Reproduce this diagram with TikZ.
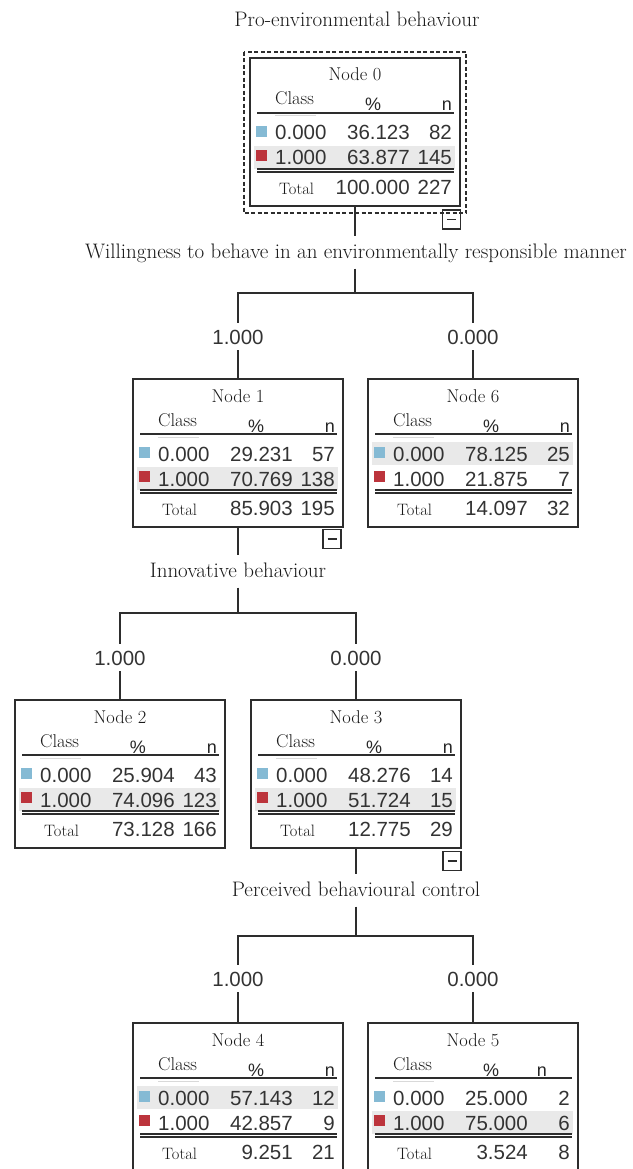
\documentclass[tikz,border=0pt]{standalone}
\usepackage{fontspec}
\newfontfamily\numfont{Liberation Sans}
\definecolor{classzero}{RGB}{133,186,212}
\definecolor{classone}{RGB}{188,52,60}
\definecolor{rowshade}{RGB}{233,233,233}
\definecolor{treeline}{RGB}{45,45,45}

% one node of the classification tree
% #1 number, #2 top left corner, #3 shaded row, #4 values, #5 box style
\newcommand{\treenode}[5]{%
  \begin{scope}[shift = {#2}]
    \foreach \pa/\na/\pb/\nb/\pt/\nt/\nx in {#4} {
      \fill[rowshade] (4, {63 + 25*#3}) rectangle ++(201, 23);
      \node[#5] (n#1) at (105, 74) {};
      \node[headtxt, anchor = base] (n#1-head) at (105, 23) {Node #1};
      \node[headtxt, anchor = base west] (n#1-class) at (25, 47) {Class};
      \node[numhead, anchor = base] (n#1-pct) at (123, 53) {\%};
      \node[numhead, anchor = base east] (n#1-cnt) at (\nx, 53) {n};
      \draw[tablerule] (7, 55) -- (204, 55);
      \draw[gray!30, line width = 1pt] (25, 58) -- (66, 58);
      \fill[classzero] (6, 68) rectangle ++(11, 11);
      \fill[classone] (6, 92) rectangle ++(11, 11);
      \node[numtxt, anchor = base west] (n#1-c0) at (25, 82) {0.000};
      \node[numtxt, anchor = base east] (n#1-p0) at (160, 82) {\pa};
      \node[numtxt, anchor = base east] (n#1-n0) at (202, 82) {\na};
      \node[numtxt, anchor = base west] (n#1-c1) at (25, 107) {1.000};
      \node[numtxt, anchor = base east] (n#1-p1) at (160, 107) {\pb};
      \node[numtxt, anchor = base east] (n#1-n1) at (202, 107) {\nb};
      \draw[tablerule] (7, 111) -- (204, 111);
      \draw[tablerule] (7, 114) -- (204, 114);
      \node[totaltxt, anchor = base west] (n#1-tot) at (29, 136) {Total};
      \node[numtxt, anchor = base east] (n#1-pt) at (160, 136) {\pt};
      \node[numtxt, anchor = base east] (n#1-nt) at (202, 136) {\nt};
    }
  \end{scope}}

\begin{document}
\begin{tikzpicture}[
    x = 1pt, y = -1pt,
    nodebox/.style = {draw = treeline, line width = 1.4pt, minimum width = 210pt, minimum height = 148pt, inner sep = 0pt},
    rootbox/.style = {nodebox, line width = 2.6pt},
    focusbox/.style = {draw = treeline, line width = 1.8pt, dash pattern = on 4pt off 2.5pt},
    minusbox/.style = {draw = treeline, line width = 1.4pt, minimum width = 18pt, minimum height = 19pt, inner sep = 0pt, text = treeline},
    headtxt/.style = {font = \fontsize{18.5}{22}\selectfont, text = black!90, inner sep = 0pt},
    totaltxt/.style = {font = \fontsize{16.5}{20}\selectfont, text = black!90, inner sep = 0pt},
    numtxt/.style = {font = \numfont\fontsize{20.5}{24}\selectfont, text = black!80, inner sep = 0pt},
    numhead/.style = {font = \numfont\fontsize{18}{21}\selectfont, text = black!85, inner sep = 0pt},
    splittxt/.style = {font = \fontsize{21}{24}\selectfont, text = black!90, text height = 15pt, text depth = 4pt, inner xsep = 0pt, inner ysep = 6.5pt},
    branch/.style = {numtxt, text height = 15pt, text depth = 0pt, inner ysep = 6pt},
    tablerule/.style = {treeline, line width = 1.3pt},
    link/.style = {draw = treeline, line width = 1.4pt}
  ]
  \useasboundingbox (0, 0) rectangle (632, 1169);
  % title
  \node[splittxt] (title) at (357, 21) {Pro-environmental behaviour};
  % tree nodes
  \treenode{0}{(250, 58)}{1}{36.123/82/63.877/145/100.000/227/202}{rootbox}
  \treenode{1}{(133, 379)}{1}{29.231/57/70.769/138/85.903/195/202}{nodebox}
  \treenode{6}{(368, 379)}{0}{78.125/25/21.875/7/14.097/32/202}{nodebox}
  \treenode{2}{(15, 700)}{1}{25.904/43/74.096/123/73.128/166/202}{nodebox}
  \treenode{3}{(251, 700)}{1}{48.276/14/51.724/15/12.775/29/202}{nodebox}
  \treenode{4}{(133, 1023)}{0}{57.143/12/42.857/9/9.251/21/202}{nodebox}
  \treenode{5}{(368, 1023)}{1}{25.000/2/75.000/6/3.524/8/179}{nodebox}
  % selection frame and collapse buttons
  \draw[focusbox] ([shift = {(-5, -5)}]n0.north west) rectangle ([shift = {(5, 6)}]n0.south east);
  \node[minusbox, anchor = north east] (m0) at ([shift = {(0, 2)}]n0.south east) {\rule{9pt}{1.4pt}};
  \node[minusbox, anchor = north east] (m1) at ([shift = {(-2, 1)}]n1.south east) {\rule{9pt}{1.4pt}};
  \node[minusbox, anchor = north east] (m3) at ([shift = {(0, 2)}]n3.south east) {\rule{9pt}{1.4pt}};
  % split variables
  \node[splittxt] (s0) at (356, 252.5) {Willingness to behave in an environmentally responsible manner};
  \node[splittxt] (s1) at (238, 571.5) {Innovative behaviour};
  \node[splittxt] (s3) at (356, 890.5) {Perceived behavioural control};
  \coordinate (f0) at (355, 293);
  \coordinate (f1) at (238, 613);
  \coordinate (f3) at (356, 936);
  % branch values
  \node[branch] (l1) at (238, 336.5) {1.000};
  \node[branch] (l6) at (473, 336.5) {0.000};
  \node[branch] (l2) at (120, 657.5) {1.000};
  \node[branch] (l3) at (356, 657.5) {0.000};
  \node[branch] (l4) at (238, 978.5) {1.000};
  \node[branch] (l5) at (473, 978.5) {0.000};
  % connectors
  \draw[link] (n0.south) -- (n0.south |- s0.north);
  \draw[link] (n0.south |- s0.south) -- (f0);
  \draw[link] (l1.north) |- (f0) -| (l6.north);
  \draw[link] (l1.south) -- (n1.north);
  \draw[link] (l6.south) -- (n6.north);
  \draw[link] (n1.south) -- (s1.north);
  \draw[link] (s1.south) -- (f1);
  \draw[link] (l2.north) |- (f1) -| (l3.north);
  \draw[link] (l2.south) -- (n2.north);
  \draw[link] (l3.south) -- (n3.north);
  \draw[link] (n3.south) -- (s3.north);
  \draw[link] (s3.south) -- (f3);
  \draw[link] (l4.north) |- (f3) -| (l5.north);
  \draw[link] (l4.south) -- (n4.north);
  \draw[link] (l5.south) -- (n5.north);
\end{tikzpicture}
\end{document}
